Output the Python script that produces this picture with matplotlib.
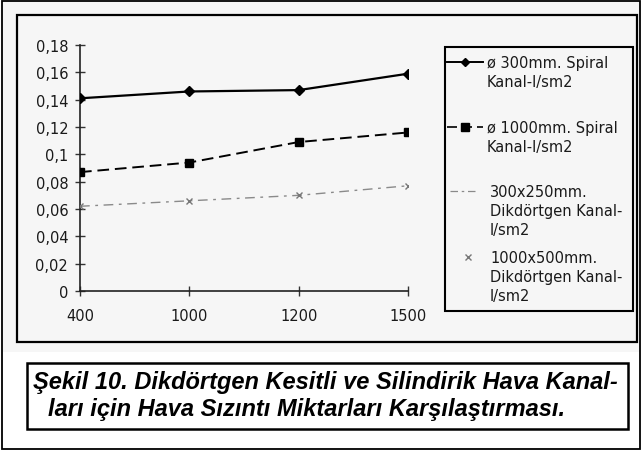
import matplotlib
matplotlib.use("Agg")
import matplotlib.pyplot as plt
from matplotlib.patches import Rectangle
from matplotlib.lines import Line2D

# ---- data ----
categories = ["400", "1000", "1200", "1500"]
spiral_300 = [0.141, 0.146, 0.147, 0.159]
spiral_1000 = [0.087, 0.094, 0.109, 0.116]
rect_300x250 = [0.062, 0.066, 0.070, 0.077]
rect_1000x500 = [0.062, 0.066, 0.070, 0.077]
yticks = [0, 0.02, 0.04, 0.06, 0.08, 0.1, 0.12, 0.14, 0.16, 0.18]
ytick_labels = ["0", "0,02", "0,04", "0,06", "0,08", "0,1", "0,12", "0,14", "0,16", "0,18"]
legend_labels = ["ø 300mm. Spiral\nKanal-l/sm2",
                 "ø 1000mm. Spiral\nKanal-l/sm2",
                 "300x250mm.\nDikdörtgen Kanal-\nl/sm2",
                 "1000x500mm.\nDikdörtgen Kanal-\nl/sm2"]
caption_lines = ["Şekil 10. Dikdörtgen Kesitli ve Silindirik Hava Kanal-",
                 "ları için Hava Sızıntı Miktarları Karşılaştırması."]

W, H = 642, 452
fig = plt.figure(figsize=(W / 100, H / 100), dpi=100)
fig.patch.set_facecolor("white")


def fx(x):
    return x / W


def fy(y):
    return 1 - y / H


def frect(x0, y0, x1, y1, **kw):
    r = Rectangle((fx(x0), fy(y1)), fx(x1) - fx(x0), fy(y0) - fy(y1),
                  transform=fig.transFigure, **kw)
    fig.add_artist(r)
    return r


# background & frames
frect(3, 3, 640, 353, facecolor="#f6f6f6", edgecolor="none", zorder=0)
frect(2, 2, 640, 450, facecolor="none", edgecolor="black", lw=1.3, zorder=5)
frect(17, 16, 637, 343, facecolor="none", edgecolor="black", lw=1.6, zorder=5)
frect(27, 364, 628, 430, facecolor="white", edgecolor="black", lw=1.8, zorder=5)

# ---- axes ----
ax = fig.add_axes([fx(80), fy(292), fx(408) - fx(80), fy(46) - fy(292)])
ax.set_facecolor("none")
x = list(range(len(categories)))
ax.plot(x, spiral_300, color="black", lw=1.6, marker="D", ms=5, zorder=4)
ax.plot(x, spiral_1000, color="black", lw=1.4, ls=(0, (6, 3)), marker="s", ms=6, zorder=4)
ax.plot(x, rect_300x250, color="#8a8a8a", lw=1.0, ls=(0, (7, 4, 2, 4)), zorder=3)
ax.plot(x, rect_1000x500, color="#777777", lw=0, marker="x", ms=5, mew=1.0, zorder=3)

ax.set_xlim(0, 3)
ax.set_ylim(0, 0.18)
ax.set_xticks(x)
ax.set_xticklabels(categories)
ax.set_yticks(yticks)
ax.set_yticklabels(ytick_labels)
for s in ["top", "right"]:
    ax.spines[s].set_visible(False)
for s in ["left", "bottom"]:
    ax.spines[s].set_linewidth(1.2)
    ax.spines[s].set_color("#222222")
ax.tick_params(direction="inout", length=7, width=1, color="#333333")
ax.tick_params(axis="x", pad=9)
ax.tick_params(axis="y", pad=5)
for lab in ax.get_xticklabels() + ax.get_yticklabels():
    lab.set_fontfamily("DejaVu Sans")
    lab.set_fontsize(10.5)
    lab.set_color("#1a1a1a")

# ---- legend (manual, Excel style) ----
frect(445, 48, 633, 312, facecolor="none", edgecolor="black", lw=1.5, zorder=5)
lfs = 10.5
entries = [
    dict(y=63, text=legend_labels[0], tx=487, line=(447, 483), ls="-", color="black", marker="D", ms=4.5, lw=1.4),
    dict(y=128, text=legend_labels[1], tx=487, line=(447, 483), ls=(0, (6, 3)), color="black", marker="s", ms=5.5, lw=1.2),
    dict(y=192, text=legend_labels[2], tx=490, line=(450, 478), ls=(0, (6, 3, 2, 3)), color="#8a8a8a", marker=None, ms=0, lw=0.9),
    dict(y=258, text=legend_labels[3], tx=490, line=None, ls="none", color="#777777", marker="x", ms=4.5, lw=0),
]
for e in entries:
    if e["line"] is not None:
        fig.add_artist(Line2D([fx(e["line"][0]), fx(e["line"][1])], [fy(e["y"]), fy(e["y"])],
                              transform=fig.transFigure, color=e["color"], ls=e["ls"], lw=e["lw"]))
    if e["marker"] is not None:
        mx = 465 if e["line"] is not None else 468
        fig.add_artist(Line2D([fx(mx)], [fy(e["y"])], transform=fig.transFigure, color=e["color"],
                              marker=e["marker"], ms=e["ms"], ls="none"))
    fig.text(fx(e["tx"]), fy(e["y"] - 7), e["text"], fontsize=lfs, family="DejaVu Sans",
             va="top", ha="left", linespacing=1.35, color="#1a1a1a")

# ---- caption ----
fig.text(fx(33), fy(383), caption_lines[0], fontsize=17, family="Liberation Sans",
         weight="bold", style="italic", va="center", ha="left", zorder=10)
fig.text(fx(48), fy(410), caption_lines[1], fontsize=17, family="Liberation Sans",
         weight="bold", style="italic", va="center", ha="left", zorder=10)

fig.savefig("out.png", dpi=100)
